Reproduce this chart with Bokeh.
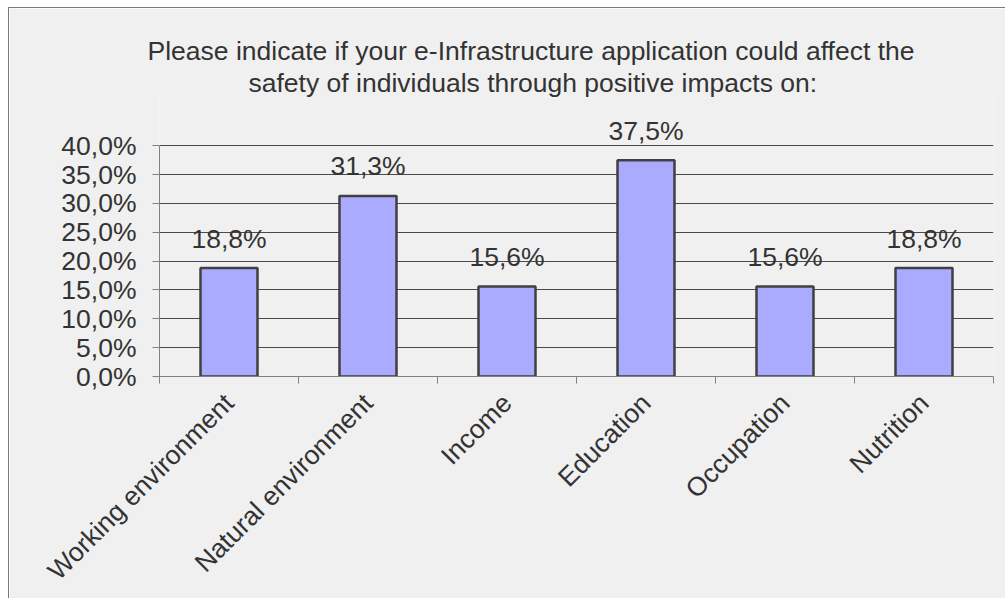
import math
from bokeh.plotting import figure
from bokeh.models import Range1d, FixedTicker, Title, ColumnDataSource
from bokeh.core.properties import value
from bokeh.embed import file_html
from bokeh.resources import INLINE

# ---- data ----
categories = ["Working environment", "Natural environment", "Income",
              "Education", "Occupation", "Nutrition"]
shares = [0.188, 0.313, 0.156, 0.375, 0.156, 0.188]
value_labels = ["18,8%", "31,3%", "15,6%", "37,5%", "15,6%", "18,8%"]
y_ticks = [0.0, 0.05, 0.10, 0.15, 0.20, 0.25, 0.30, 0.35, 0.40]
y_tick_labels = ["0,0%", "5,0%", "10,0%", "15,0%", "20,0%",
                 "25,0%", "30,0%", "35,0%", "40,0%"]
title_lines = ["Please indicate if your e-Infrastructure application could affect the",
               "safety of individuals through positive impacts on:"]

FONT = "Liberation Sans"
FS = "26.5px"
TXT = "#333333"
BG = "#F0F0F0"

# layout (pixels inside the figure)
FIG_W, FIG_H = 997, 591
FRAME_TOP = 89
FRAME_BOTTOM = 368          # y of 0 %
PX_40 = 137.3               # y of 40 %
Y_END = 0.40 * (FRAME_BOTTOM - FRAME_TOP) / (FRAME_BOTTOM - PX_40)

xs = [i + 0.5 for i in range(len(categories))]
src = ColumnDataSource(dict(x=xs, top=shares, lab=value_labels))

p = figure(width=FIG_W, height=FIG_H, output_backend="svg", toolbar_location=None,
           x_range=Range1d(0, len(categories)), y_range=Range1d(0, Y_END),
           min_border_left=150, min_border_right=13, min_border_top=FRAME_TOP,
           min_border_bottom=FIG_H - FRAME_BOTTOM)
p.styles = {"margin-left": "8px", "margin-top": "7px",
            "border-left": "1px solid #7a7a7a", "border-top": "1px solid #7a7a7a"}
p.background_fill_color = BG
p.border_fill_color = BG
p.outline_line_color = None

p.vbar(x="x", top="top", width=0.41, source=src, fill_color="#AAAAFF",
       line_color="#404040", line_width=2.5)
p.text(x="x", y="top", text="lab", source=src, text_align="center",
       text_baseline="alphabetic", y_offset=-29.5, text_font=value(FONT),
       text_font_size=FS, text_color=TXT)

# title (two lines; inner line added first)
for line, off, so in [(title_lines[1], 89, 0), (title_lines[0], -12, 0)]:
    p.add_layout(Title(text=line, align="left", offset=off, standoff=so,
                       text_font=FONT, text_font_size=FS, text_font_style="normal",
                       text_color=TXT), "above")

# y axis
yax = p.yaxis[0]
yax.ticker = FixedTicker(ticks=y_ticks)
yax.major_label_overrides = {t: l for t, l in zip(y_ticks, y_tick_labels)}
yax.bounds = (0, 0.40)
yax.axis_line_color = "#808080"
yax.major_tick_line_color = "#808080"
yax.major_tick_out = 7
yax.major_tick_in = 0
yax.minor_tick_line_color = None
yax.major_label_standoff = 16
yax.major_label_text_font = FONT
yax.major_label_text_font_size = FS
yax.major_label_text_color = TXT

# x axis
xax = p.xaxis[0]
xax.ticker = FixedTicker(ticks=xs, minor_ticks=list(range(len(categories) + 1)))
xax.major_label_overrides = {x: c for x, c in zip(xs, categories)}
xax.major_label_orientation = math.pi / 4
xax.axis_line_color = "#808080"
xax.major_tick_line_color = None
xax.minor_tick_line_color = "#808080"
xax.minor_tick_out = 7
xax.minor_tick_in = 0
xax.major_label_standoff = 15
xax.major_label_text_font = FONT
xax.major_label_text_font_size = FS
xax.major_label_text_color = TXT

# grids
p.xgrid.grid_line_color = None
p.ygrid.ticker = FixedTicker(ticks=y_ticks[1:])
p.ygrid.grid_line_color = "#4a4a4a"
p.ygrid.grid_line_width = 1

open("out.html", "w").write(file_html(p, INLINE))
